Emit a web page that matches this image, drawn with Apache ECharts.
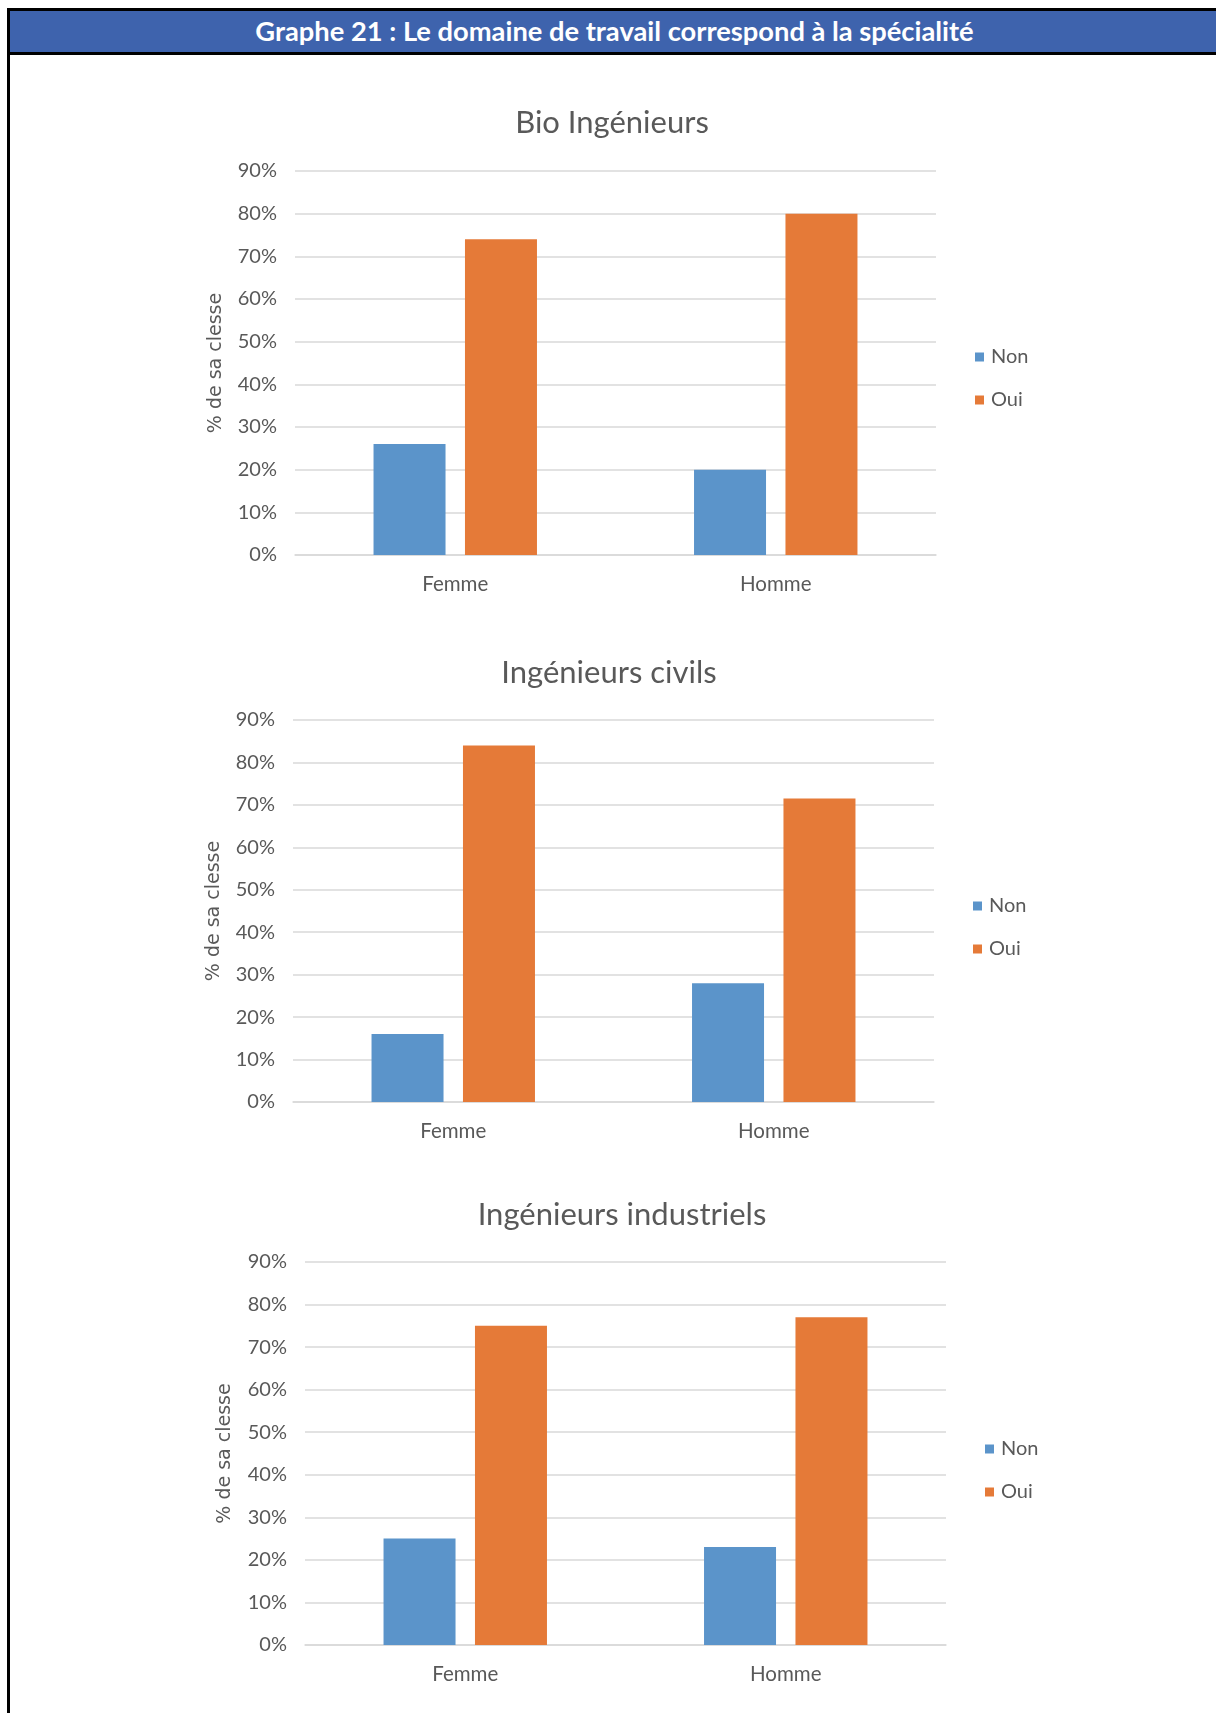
<!DOCTYPE html>
<html>
<head>
<meta charset="utf-8">
<script src="https://cdn.jsdelivr.net/npm/echarts@6/dist/echarts.min.js"></script>
<style>
  html, body { margin: 0; padding: 0; background: #fff; }
  #page { position: relative; width: 1216px; height: 1713px; overflow: hidden; }
  #header {
    position: absolute; left: 7px; top: 8px; width: 1209px; height: 41px;
    background: #3e63ad; border-top: 3px solid #000; border-bottom: 3px solid #000; border-left: 3px solid #000;
    color: #fff; font-family: Lato, "Open Sans", sans-serif; font-weight: bold; font-size: 27.3px;
    line-height: 40px; text-align: center; box-sizing: content-box;
  }
  #leftRule { position: absolute; left: 7px; top: 50px; width: 3px; height: 1663px; background: #000; }
  #chart { position: absolute; left: 0; top: 0; width: 1216px; height: 1713px; }
</style>
</head>
<body>
<div id="page">
  <div id="chart"></div>
  <div id="header">Graphe 21 : Le domaine de travail correspond à la spécialité</div>
  <div id="leftRule"></div>
</div>
<script>
// values (percent of class)
const categories = ['Femme', 'Homme'];
const seriesNames = ['Non', 'Oui'];
const panelTitles = ['Bio Ingénieurs', 'Ingénieurs civils', 'Ingénieurs industriels'];
const nonValues = [
  [26, 20],
  [16, 28],
  [25, 23],
];
const ouiValues = [
  [74, 80],
  [84, 71.5],
  [75, 77],
];
const yAxisName = '% de sa clesse';

// panel placement on the page (px)
const panels = [
  { left: 295, right: 936, top: 171, bottom: 555, titleX: 607, titleY: 118, nameX: 226, legendX: 975, legendY: 347 },
  { left: 293, right: 934, top: 720, bottom: 1102, titleX: 604, titleY: 668, nameX: 224, legendX: 973, legendY: 896 },
  { left: 305, right: 946, top: 1262, bottom: 1645, titleX: 617, titleY: 1210, nameX: 235, legendX: 985, legendY: 1439 },
];

const COLORS = ['#5b94ca', '#e57a38'];
const TEXT = '#595959';
const GRID_LINE = '#d9d9d9';
const FONT = 'Lato, "Open Sans", sans-serif';

const chart = echarts.init(document.getElementById('chart'));

const title = [];
const grid = [];
const xAxis = [];
const yAxis = [];
const legend = [];
const series = [];

panels.forEach((p, i) => {
  title.push({
    text: panelTitles[i],
    left: p.titleX,
    top: p.titleY,
    textAlign: 'center',
    textVerticalAlign: 'middle',
    textStyle: { color: TEXT, fontFamily: FONT, fontSize: 31, fontWeight: 'normal' },
  });

  grid.push({
    left: p.left,
    width: p.right - p.left,
    top: p.top,
    height: p.bottom - p.top,
    containLabel: false,
  });

  xAxis.push({
    type: 'category',
    gridIndex: i,
    data: categories,
    axisLine: { lineStyle: { color: GRID_LINE, width: 1.5 } },
    axisTick: { show: false },
    axisLabel: { color: TEXT, fontFamily: FONT, fontSize: 20.5, margin: 19 },
  });

  yAxis.push({
    type: 'value',
    gridIndex: i,
    min: 0,
    max: 90,
    interval: 10,
    name: yAxisName,
    nameLocation: 'middle',
    nameGap: p.left - p.nameX,
    nameTextStyle: { color: TEXT, fontFamily: '"DejaVu Sans", sans-serif', fontSize: 19 },
    axisLine: { show: false },
    axisTick: { show: false },
    axisLabel: { color: TEXT, fontFamily: FONT, fontSize: 20, margin: 18, formatter: '{value}%' },
    splitLine: { lineStyle: { color: GRID_LINE, width: 1.5 } },
  });

  legend.push({
    data: seriesNames,
    orient: 'vertical',
    left: p.legendX,
    top: p.legendY,
    padding: 0,
    icon: 'rect',
    itemWidth: 9,
    itemHeight: 9,
    itemGap: 23,
    selectedMode: false,
    textStyle: { color: TEXT, fontFamily: FONT, fontSize: 20, padding: [0, 0, 0, 2] },
  });

  series.push({
    name: 'Non',
    type: 'bar',
    xAxisIndex: i,
    yAxisIndex: i,
    data: nonValues[i],
    barWidth: 72,
    barGap: '27%',
    itemStyle: { color: COLORS[0] },
  });
  series.push({
    name: 'Oui',
    type: 'bar',
    xAxisIndex: i,
    yAxisIndex: i,
    data: ouiValues[i],
    barWidth: 72,
    barGap: '27%',
    itemStyle: { color: COLORS[1] },
  });
});

chart.setOption({
  animation: false,
  color: COLORS,
  title,
  grid,
  xAxis,
  yAxis,
  legend,
  series,
});
</script>
</body>
</html>
